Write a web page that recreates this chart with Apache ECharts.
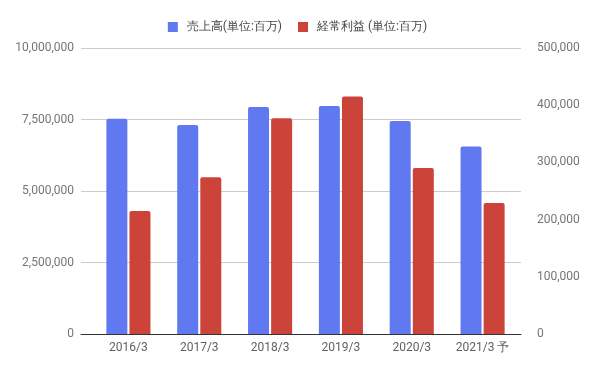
<!DOCTYPE html>
<html>
<head>
<meta charset="utf-8">
<script src="https://cdn.jsdelivr.net/npm/echarts@6/dist/echarts.min.js"></script>
<style>html,body{margin:0;padding:0;background:#fff}#c{width:595px;height:370px}</style>
</head>
<body>
<div id="c"></div>
<script>
var categories = ['2016/3', '2017/3', '2018/3', '2019/3', '2020/3', '2021/3 予'];
var salesName = '売上高(単位:百万)';
var profitName = '経常利益 (単位:百万)';
var sales = [7530000, 7310000, 7940000, 7970000, 7450000, 6560000];
var profit = [215000, 274000, 377000, 415000, 290000, 229000];
var leftTicks = { min: 0, max: 10000000, interval: 2500000 };
var rightTicks = { min: 0, max: 500000, interval: 100000 };

var fmt = function (v) { return Number(v).toLocaleString('en-US'); };
var font = 'Roboto, Arial, sans-serif';
var chart = echarts.init(document.getElementById('c'), null, { renderer: 'canvas' });
chart.setOption({
  animation: false,
  textStyle: { fontFamily: font },
  legend: {
    top: 16, left: 'center', itemWidth: 10, itemHeight: 10, itemGap: 16, icon: 'rect',
    textStyle: { fontSize: 12, color: '#444', fontFamily: font, padding: [0, 0, 0, 4] },
    data: [salesName, profitName]
  },
  grid: [
    { left: 81, right: 74, top: 48, bottom: 36 },
    { left: 93, right: 77, top: 48, bottom: 36 }
  ],
  xAxis: [
    { gridIndex: 0, type: 'value', min: 0, max: 1, axisLine: { show: true, onZero: false, lineStyle: { color: '#333', width: 1 } },
      axisTick: { show: false }, axisLabel: { show: false }, splitLine: { show: false } },
    { gridIndex: 1, type: 'category', data: categories, axisLine: { show: false }, axisTick: { show: false },
      axisLabel: { color: '#616161', fontSize: 12, margin: 8, fontFamily: font } }
  ],
  yAxis: [
    { gridIndex: 0, type: 'value', min: leftTicks.min, max: leftTicks.max, interval: leftTicks.interval, position: 'left',
      axisLine: { show: false }, axisTick: { show: false },
      axisLabel: { color: '#757575', fontSize: 12, margin: 7, formatter: fmt, fontFamily: font },
      splitLine: { lineStyle: { color: '#cccccc', width: 1 } } },
    { gridIndex: 0, type: 'value', min: rightTicks.min, max: rightTicks.max, interval: rightTicks.interval, position: 'right',
      axisLine: { show: false }, axisTick: { show: false },
      axisLabel: { color: '#757575', fontSize: 12, margin: 16, formatter: fmt, fontFamily: font },
      splitLine: { show: false } },
    { gridIndex: 1, type: 'value', min: leftTicks.min, max: leftTicks.max, show: false, splitLine: { show: false } },
    { gridIndex: 1, type: 'value', min: rightTicks.min, max: rightTicks.max, show: false, splitLine: { show: false } }
  ],
  series: [
    { name: salesName, type: 'bar', xAxisIndex: 1, yAxisIndex: 2, data: sales, barWidth: 21, barGap: '10%',
      itemStyle: { color: '#6079f0', borderRadius: [2, 2, 0, 0] } },
    { name: profitName, type: 'bar', xAxisIndex: 1, yAxisIndex: 3, data: profit, barWidth: 21, barGap: '10%',
      itemStyle: { color: '#cc4439', borderRadius: [2, 2, 0, 0] } }
  ]
});
</script>
</body>
</html>
